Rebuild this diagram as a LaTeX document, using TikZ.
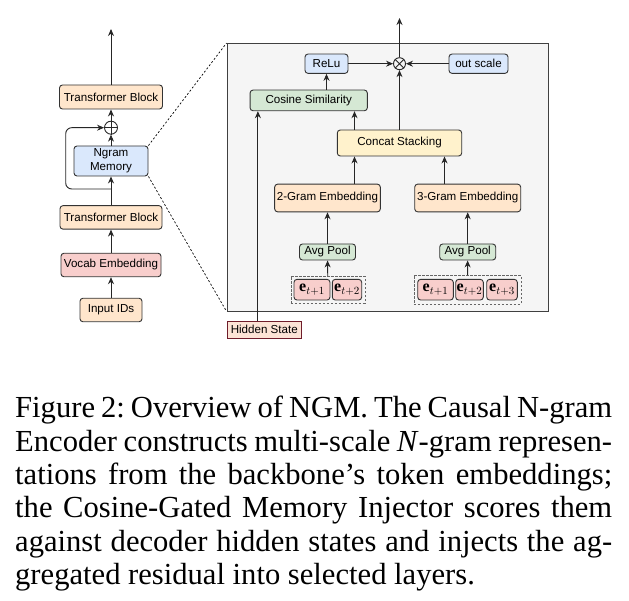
\documentclass[tikz,border=0pt]{standalone}
\usepackage{amsmath}
\usepackage{fontspec}
\setmainfont{Liberation Serif}
\setsansfont{Liberation Sans}
\usetikzlibrary{arrows.meta,fit}

\definecolor{peach}{HTML}{FFE6CC}
\definecolor{bluefill}{HTML}{DAE8FC}
\definecolor{redfill}{HTML}{F8CECC}
\definecolor{greenfill}{HTML}{D5E8D4}
\definecolor{yellowfill}{HTML}{FFF2CC}
\definecolor{panelfill}{HTML}{F5F5F5}
\definecolor{hsborder}{HTML}{6F1D2B}
\definecolor{hsfill}{HTML}{FCE4D6}

\begin{document}
\begin{tikzpicture}[x=1pt, y=-1pt,
    font=\sffamily\fontsize{11.6}{14}\selectfont,
    blk/.style={draw=black!80, line width=0.9pt, rounded corners=3pt, inner sep=0pt, align=center},
    arr/.style={-{Stealth[length=7pt,width=6pt]}, line width=0.9pt, draw=black!85},
    tok/.style={blk, fill=redfill, minimum height=20.7pt, font=\fontsize{16}{18}\selectfont},
    op/.style={circle, draw=black!85, line width=0.9pt, inner sep=0pt}]

        \useasboundingbox (0,0) rectangle (629,601);

        % 1. 左側のモデル全体
        \node[blk, fill=peach, minimum width=103pt, minimum height=24pt] (tbtop) at (111,97) {Transformer Block};
        \node[op, minimum size=13pt] (add) at (111,127.7) {};
        \draw[line width=0.9pt, black!85] (add.north) -- (add.south) (add.west) -- (add.east);
        \node[blk, fill=bluefill, minimum width=74pt, minimum height=30pt] (ngm) at (111,161) {Ngram\\Memory};
        \node[blk, fill=peach, minimum width=102pt, minimum height=23.5pt] (tbbot) at (111,217.4) {Transformer Block};
        \node[blk, fill=redfill, minimum width=100pt, minimum height=23.5pt] (vocab) at (111,265) {Vocab Embedding};
        \node[blk, fill=peach, minimum width=62pt, minimum height=23.5pt] (ids) at (111,310) {Input IDs};
        \coordinate (outL) at (111,29);
        \coordinate (split) at (111,189);
        \coordinate (loopturn) at (65.7,127.7);

        \draw[arr] (ids) -- (vocab);
        \draw[arr] (vocab) -- (tbbot);
        \draw[arr] (tbbot) -- (ngm);
        \draw[arr] (ngm) -- (add);
        \draw[arr] (add) -- (tbtop);
        \draw[arr] (tbtop) -- (outL);
        \draw[arr, rounded corners=6pt] (split) -| (loopturn) -- (add);

        % 2. 右側の拡大図（枠）
        \node[draw=black!75, fill=panelfill, line width=0.9pt, minimum width=321pt, minimum height=267.5pt, inner sep=0pt] (panel) at (387.5,177.25) {};
        \draw[dash pattern=on 2pt off 2pt, line width=0.7pt] (ngm.north east) -- (panel.north west);
        \draw[dash pattern=on 2pt off 2pt, line width=0.7pt] (ngm.south east) -- (panel.south west);

        % 3. 枠の中のブロック
        \node[blk, fill=bluefill, minimum width=43pt, minimum height=19.3pt] (relu) at (326.5,63.7) {ReLu};
        \node[op, minimum size=12pt] (mul) at (399.5,63.7) {};
        \draw[line width=0.9pt, black!85] (mul.north west) -- (mul.south east) (mul.north east) -- (mul.south west);
        \node[blk, fill=bluefill, minimum width=59pt, minimum height=19.3pt] (scale) at (478.5,63.7) {out scale};
        \node[blk, fill=greenfill, minimum width=117.3pt, minimum height=20.7pt] (cos) at (308.7,100.4) {Cosine Similarity};
        \node[blk, fill=yellowfill, minimum width=124.4pt, minimum height=26pt] (concat) at (399.5,143) {Concat Stacking};
        \node[blk, fill=peach, minimum width=105.7pt, minimum height=27.7pt] (gram2) at (327.5,198) {2-Gram Embedding};
        \node[blk, fill=peach, minimum width=106pt, minimum height=27.7pt] (gram3) at (467.7,198) {3-Gram Embedding};
        \node[blk, fill=greenfill, minimum width=56pt, minimum height=16pt] (pool2) at (327.5,252) {Avg Pool};
        \node[blk, fill=greenfill, minimum width=56pt, minimum height=16pt] (pool3) at (467.7,252) {Avg Pool};

        % トークン埋め込み
        \foreach \nm/\x/\w/\t in {a1/312/36/1, a2/347/29.4/2}
            \node[tok, minimum width=\w pt] (\nm) at (\x,289.7) {$\mathbf{e}_{t+\t}$};
        \foreach \nm/\x/\w/\t in {b1/435.5/35.6/1, b2/469.5/27.6/2, b3/502/30.6/3}
            \node[tok, minimum width=\w pt] (\nm) at (\x,289.7) {$\mathbf{e}_{t+\t}$};
        \node[draw=black!60, dash pattern=on 2.5pt off 1.5pt, line width=0.7pt, fit=(a1)(a2), inner sep=2.7pt] (grp2) {};
        \node[draw=black!60, dash pattern=on 2.5pt off 1.5pt, line width=0.7pt, fit=(b1)(b3), inner sep=3.4pt] (grp3) {};

        \node[blk, rounded corners=0pt, draw=hsborder, fill=hsfill, minimum width=73.3pt, minimum height=17.3pt] (hidden) at (264.3,329.7) {Hidden State};
        \coordinate (outR) at (399.5,18);

        % 4. 矢印
        \draw[arr] (grp2) -- (pool2);
        \draw[arr] (grp3) -- (pool3);
        \draw[arr] (pool2) -- (gram2);
        \draw[arr] (pool3) -- (gram3);
        \draw[arr] ([xshift=-45pt]concat.south |- gram2.north) -- ([xshift=-45pt]concat.south);
        \draw[arr] ([xshift=45pt]concat.south |- gram3.north) -- ([xshift=45pt]concat.south);
        \draw[arr] ([xshift=-45pt]concat.north) -- ([xshift=-45pt]concat.north |- cos.south);
        \draw[arr] ([xshift=8.3pt]cos.south west |- hidden.north) -- ([xshift=8.3pt]cos.south west);
        \draw[arr] (cos.north -| relu) -- (relu);
        \draw[arr] (concat) -- (mul);
        \draw[arr] (relu) -- (mul);
        \draw[arr] (scale) -- (mul);
        \draw[arr] (mul) -- (outR);

        % 5. キャプション
        \node[anchor=north west, inner sep=0pt, text width=597pt, align=justify,
              font=\rmfamily\fontsize{30.6}{33.4}\selectfont\frenchspacing] (caption) at (15,396)
            {Figure 2: Overview of NGM. The Causal N-gram\linebreak
             Encoder constructs multi-scale \textit{N}-gram represen-\linebreak
             tations from the backbone's token embeddings;\linebreak
             the Cosine-Gated Memory Injector scores them\linebreak
             against decoder hidden states and injects the ag-\linebreak
             gregated residual into selected layers.};
    \end{tikzpicture}
\end{document}
